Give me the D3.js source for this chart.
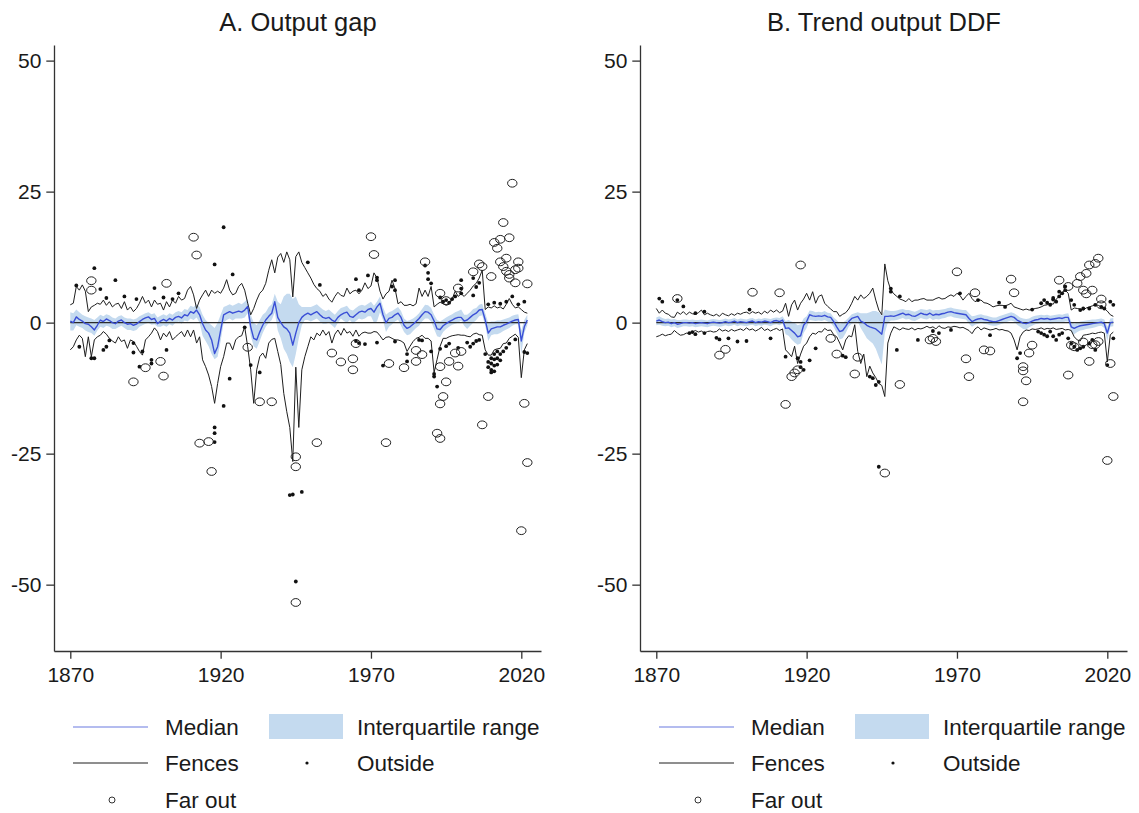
<!DOCTYPE html>
<html>
<head>
<meta charset="utf-8">
<script src="https://cdn.jsdelivr.net/npm/d3@7"></script>
<style>
  html, body { margin: 0; padding: 0; background: #fff; }
  svg { display: block; font-family: "Liberation Sans", Arial, Helvetica, sans-serif; }
</style>
</head>
<body>
<svg id="chart" width="1139" height="813"></svg>
<script>
// ---- Data -------------------------------------------------------------
const YEARS = d3.range(1870, 2023);
const Y_TICKS = [-50, -25, 0, 25, 50];
const X_TICKS = [1870, 1920, 1970, 2020];
const PANEL_TITLES = ["A. Output gap", "B. Trend output DDF"];
const LEGEND_LABELS = ["Median", "Interquartile range", "Fences", "Outside", "Far out"];

// Panel A: output gap
const gapMed = [
  0.3, 0.0, 1.1, 0.6, 0.3, -0.2, -0.3, -0.8, -1.4, -0.5,
  0.5, 0.2, 0.7, 0.4, 0.0, -0.2, 0.3, 0.5, 0.0, -0.3,
  -0.2, -0.5, -0.3, 0.2, 0.6, 0.9, 1.1, 0.6, 0.8, -0.2,
  0.3, 0.6, 0.3, 0.8, 0.5, 1.0, 1.2, 0.9, 1.5, 1.3,
  2.1, 1.8, 2.4, 1.5, -0.2, -1.4, -2.0, -3.3, -5.9, -4.6,
  -1.5, 1.5, 1.8, 2.1, 1.8, 2.0, 2.2, 2.0, 2.4, 3.1,
  -0.8, -3.0, -3.3, -1.8, -0.5, 0.5, 1.2, 1.8, 4.0, 1.0,
  0.0, -0.8, -1.2, -2.0, -4.3, -2.0, 0.0, 1.0, 1.5, 1.8,
  1.5, 1.8, 2.1, 1.5, 1.0, 0.8, 1.0, 0.5, 0.2, 1.0,
  1.5, 1.8, 2.0, 1.2, 1.0, 1.5, 2.0, 2.2, 2.0, 2.5,
  2.7, 2.0, 3.0, 3.7, 1.5, 0.0, 0.8, 1.0, 1.5, 1.8,
  1.0, -0.5, -1.1, -0.8, -0.3, 0.2, 0.8, 1.5, 2.1, 2.0,
  1.5, 0.3, -1.2, -1.3, -0.6, -0.2, 0.2, 0.5, 0.8, 1.0,
  1.0, 0.3, 0.5, 1.0, 1.5, 1.8, 2.4, 2.5, 0.5, -2.0,
  -1.2, -1.0, -0.8, -0.8, -0.5, -0.3, 0.0, 0.3, 0.5, 0.6,
  -3.5, -0.8, 0.5
];
const gapQ3 = [
  2.0, 1.8, 2.5, 2.0, 1.5, 1.2, 1.0, 0.8, 0.5, 1.0,
  1.5, 1.2, 1.6, 1.4, 1.0, 0.8, 1.2, 1.4, 1.0, 0.8,
  0.8, 0.6, 0.8, 1.2, 1.5, 1.8, 2.0, 1.6, 1.8, 1.0,
  1.3, 1.6, 1.3, 1.8, 1.5, 2.0, 2.2, 2.0, 2.6, 2.4,
  3.2, 3.0, 3.5, 3.0, 1.5, 0.5, 0.0, -0.5, -1.0, 0.0,
  1.5, 3.0, 3.2, 3.5, 3.2, 3.5, 3.8, 3.5, 4.0, 4.5,
  1.5, 0.0, -0.5, 0.5, 1.5, 2.0, 3.0, 3.5, 5.5, 4.0,
  3.5, 5.0, 5.5, 5.5, 4.5, 5.0, 3.5, 3.0, 3.0, 3.0,
  3.0, 3.2, 3.5, 3.0, 2.5, 2.2, 2.5, 2.0, 1.5, 2.2,
  2.8, 3.0, 3.2, 2.5, 2.3, 2.8, 3.2, 3.4, 3.2, 3.6,
  4.0, 3.2, 4.0, 5.0, 3.0, 1.5, 2.0, 2.2, 2.6, 3.0,
  2.2, 0.8, 0.3, 0.5, 0.8, 1.2, 1.8, 2.6, 3.4, 3.3,
  2.8, 1.5, 0.5, 0.2, 0.6, 1.0, 1.3, 1.6, 2.0, 2.2,
  2.5, 1.5, 1.5, 2.0, 2.6, 2.8, 3.4, 3.6, 1.8, 0.0,
  0.2, 0.2, 0.4, 0.4, 0.6, 0.8, 1.0, 1.3, 1.5, 1.6,
  -1.5, 0.5, 1.5
];
const gapQ1 = [
  -1.5, -1.5, -0.5, -0.8, -1.0, -1.5, -1.8, -2.0, -2.5, -1.5,
  -0.8, -1.0, -0.6, -0.8, -1.2, -1.2, -0.9, -0.6, -1.0, -1.4,
  -1.4, -1.6, -1.4, -0.8, -0.5, -0.2, 0.0, -0.4, -0.3, -0.8,
  -0.8, -0.5, -0.8, -0.3, -0.6, 0.0, 0.2, -0.2, 0.4, 0.2,
  0.8, 0.5, 1.0, 0.0, -2.5, -3.5, -4.5, -6.0, -7.0, -6.5,
  -3.5, 0.0, 0.5, 0.8, 0.4, 0.8, 0.8, 0.8, 1.0, 1.8,
  -2.5, -4.5, -5.0, -3.5, -2.0, -0.8, 0.0, 0.5, 2.0, -1.5,
  -3.0, -5.0, -6.0, -7.5, -8.5, -6.0, -3.0, -0.5, 0.5, 0.5,
  0.2, 0.5, 0.8, 0.2, -0.2, -0.2, 0.0, -0.5, -1.0, 0.0,
  0.8, 0.3, 0.0, 0.5, -0.2, 0.3, 0.8, 0.6, 0.8, 1.2,
  1.2, 0.0, 0.2, 2.0, 0.5, -1.8, -0.8, -0.3, 0.2, 0.6,
  -0.6, -1.8, -2.4, -2.2, -1.6, -1.0, -0.6, 0.2, 0.8, 0.8,
  0.2, -1.2, -2.6, -2.8, -1.8, -1.2, -0.8, -0.4, -0.2, 0.0,
  0.4, -0.6, -1.2, -0.6, 0.0, 0.5, 1.2, 1.4, -0.6, -3.5,
  -2.4, -2.2, -2.2, -2.0, -1.6, -1.3, -1.0, -0.6, -0.3, -0.3,
  -6.0, -2.0, -0.5
];
const gapHi = [
  3.4, 3.7, 6.9, 6.2, 7.2, 6.0, 2.1, 3.0, 3.3, 3.7,
  3.5, 4.3, 3.3, 4.0, 3.0, 3.5, 3.7, 2.7, 4.0, 2.4,
  3.0, 2.1, 2.7, 3.7, 5.0, 3.7, 4.3, 3.0, 4.3, 3.5,
  3.7, 2.4, 4.0, 3.0, 4.3, 3.7, 5.0, 4.3, 4.6, 6.2,
  6.9, 5.3, 2.7, 4.3, 5.3, 6.2, 5.0, 6.2, 5.6, 6.0,
  5.6, 6.6, 8.2, 6.2, 5.3, 5.6, 6.9, 7.5, 6.2, 3.7,
  1.5, 2.7, 4.3, 5.6, 6.2, 7.5, 10.0, 12.0, 9.5, 12.5,
  13.2, 11.5, 13.5, 12.0, 4.9, 12.6, 13.5, 11.5, 10.5, 9.5,
  8.5, 7.3, 6.5, 6.0, 5.0, 5.5, 4.5, 3.9, 5.0, 5.8,
  5.2, 5.0, 6.6, 5.5, 6.0, 6.2, 5.5, 6.2, 7.6, 6.5,
  7.0, 9.5, 8.5, 6.0, 4.5, 5.5, 6.0, 8.1, 6.5, 3.6,
  4.0, 3.3, 3.3, 3.5, 3.2, 3.6, 6.6, 5.0, 6.2, 5.0,
  6.9, 3.0, 3.5, 3.9, 3.6, 3.3, 3.5, 4.5, 6.0, 5.0,
  5.5, 5.0, 5.6, 6.2, 7.0, 7.5, 8.5, 10.0, 2.5, 3.0,
  2.8, 3.2, 2.8, 3.0, 2.6, 3.5, 4.6, 3.5, 2.8, 3.0,
  2.5, 2.0, 1.8
];
const gapLo = [
  -5.2, -4.6, -3.3, -2.4, -3.0, -6.5, -2.7, -6.5, -3.3, -2.7,
  -2.4, -1.7, -2.2, -3.0, -3.5, -3.9, -2.7, -3.6, -3.3, -4.9,
  -3.3, -3.6, -4.5, -5.5, -6.2, -3.3, -2.7, -2.0, -1.0, -1.7,
  -3.3, -2.0, -2.7, -1.7, -3.3, -2.7, -2.2, -1.7, -2.7, -1.4,
  -2.7, -1.4, -3.9, -2.7, -7.1, -8.4, -10.0, -12.2, -15.4, -11.6,
  -8.4, -6.5, -3.9, -3.9, -5.2, -3.3, -2.7, -2.5, -0.8, -4.6,
  -9.0, -15.4, -9.0, -6.5, -5.8, -6.8, -3.9, -3.2, -3.0, -5.5,
  -8.0, -13.5, -17.0, -20.0, -26.5, -8.5, -20.0, -9.0, -6.5, -4.6,
  -2.7, -3.3, -2.0, -2.5, -1.4, -2.4, -1.7, -3.9, -2.2, -1.4,
  -2.4, -1.1, -2.0, -1.7, -2.6, -1.4, -2.6, -2.0, -1.8, -2.0,
  -2.0, -1.7, -1.8, -2.5, -3.3, -2.8, -2.7, -3.0, -3.3, -3.3,
  -3.5, -3.9, -5.5, -4.5, -3.6, -3.0, -2.8, -2.4, -3.0, -3.0,
  -3.5, -9.5, -7.0, -4.5, -3.0, -3.0, -2.7, -2.5, -2.4, -2.3,
  -2.4, -2.4, -2.6, -2.7, -2.2, -2.0, -2.3, -2.4, -5.2, -6.2,
  -6.2, -5.2, -5.0, -4.9, -4.0, -3.9, -3.0, -2.6, -2.2, -2.8,
  -10.5, -5.2, -4.0
];
const gapOutside = [
  [1872, 7.1], [1878, 10.4], [1880, 6.4], [1882, 4.7], [1885, 8.1], [1888, 5.0],
  [1892, 4.5], [1898, 6.6], [1901, 4.8], [1904, 4.5], [1906, 5.6], [1918, 11.1],
  [1921, 18.2], [1924, 9.2], [1949, 11.5], [1953, 7.2], [1965, 8.3], [1966, 6.2],
  [1969, 9.0], [1972, 8.6], [1972, 8.1], [1977, 6.9], [1978, 8.1], [1978, 6.2],
  [1988, 10.9], [1989, 9.5], [1989, 8.3], [1990, 7.5], [1993, 4.8], [1994, 4.0],
  [1995, 4.3], [1996, 3.8], [1997, 4.5], [1998, 5.0], [2000, 8.1], [2000, 6.5],
  [2000, 5.6], [2004, 5.2], [2005, 6.8], [2006, 7.6], [2004, 8.5], [2009, 3.5],
  [2011, 3.8], [2013, 3.6], [2015, 4.0], [2017, 5.0], [2019, 3.5], [2021, 4.0],
  [1873, -4.6], [1877, -6.8], [1878, -6.8], [1881, -5.2], [1882, -4.6], [1883, -3.4],
  [1891, -3.9], [1891, -5.7], [1893, -8.4], [1894, -5.5], [1897, -7.1], [1897, -7.8],
  [1902, -5.2], [1918, -20.0], [1918, -21.1], [1918, -22.8], [1921, -15.9], [1923, -10.7],
  [1928, -0.9], [1930, -8.1], [1933, -9.5], [1943, -32.9], [1944, -32.8], [1947, -32.3],
  [1945, -49.4], [1965, -3.5], [1966, -3.9], [1968, -4.1], [1972, -3.8], [1974, -8.2],
  [1978, -3.6], [1982, -6.0], [1982, -7.4], [1986, -3.3], [1987, -3.4], [1990, -5.5],
  [1991, -9.8], [1991, -10.3], [1992, -12.2], [1993, -5.0], [1995, -4.5], [1996, -4.0],
  [1999, -4.8], [2002, -3.8], [2003, -4.6], [2004, -4.0], [2005, -3.5], [2006, -3.3],
  [2008, -6.0], [2009, -7.5], [2009, -8.5], [2010, -6.8], [2010, -7.8], [2010, -9.0],
  [2010, -9.5], [2011, -6.0], [2011, -7.0], [2011, -8.2], [2011, -9.3], [2012, -5.5],
  [2012, -6.8], [2012, -8.0], [2013, -6.0], [2013, -7.2], [2014, -5.5], [2015, -4.8],
  [2016, -4.0], [2018, -3.2], [2021, -5.6], [2022, -5.8]
];
const gapFarOut = [
  [1877, 8.0], [1877, 6.2], [1902, 7.5], [1911, 16.3], [1912, 12.9], [1970, 16.4],
  [1971, 13.0], [1988, 11.6], [1993, 5.6], [1995, 4.2], [1999, 6.6], [2004, 9.7],
  [2006, 11.2], [2007, 10.7], [2010, 8.8], [2011, 15.3], [2012, 14.2], [2013, 15.9],
  [2013, 11.6], [2014, 10.7], [2014, 19.1], [2015, 12.3], [2016, 16.2], [2016, 9.2],
  [2016, 8.5], [2015, 9.8], [2017, 26.6], [2018, 10.1], [2018, 7.6], [2019, 11.6],
  [2019, 10.4], [2022, 7.4],
  [1891, -11.3], [1895, -8.6], [1900, -7.4], [1901, -10.2], [1913, -23.0], [1916, -22.7],
  [1917, -28.4], [1929, -4.7], [1933, -15.1], [1937, -15.1], [1945, -25.6], [1945, -27.5],
  [1945, -53.4], [1952, -22.9], [1957, -5.8], [1960, -7.5], [1964, -6.9], [1964, -9.0],
  [1965, -4.0], [1975, -22.9], [1976, -7.8], [1981, -8.6], [1985, -5.3], [1987, -6.1],
  [1985, -7.4], [1992, -21.1], [1993, -22.1], [1993, -8.4], [1993, -15.5], [1994, -14.1],
  [1995, -11.3], [1996, -7.4], [1999, -8.3], [2000, -5.5], [1998, -5.8], [2007, -19.5],
  [2009, -14.1], [2021, -15.4], [2022, -26.7], [2020, -39.7]
];

// Panel B: trend output DDF
const ddfMed = [
  0.3, 0.5, 0.2, 0.0, 0.1, -0.2, 0.0, -0.3, -0.2, 0.0,
  0.0, -0.1, 0.0, -0.2, -0.1, 0.0, -0.1, -0.2, 0.0, 0.1,
  0.0, -0.1, 0.0, 0.2, 0.0, 0.1, 0.3, 0.0, 0.2, 0.1,
  0.0, 0.2, 0.3, 0.0, 0.2, 0.1, 0.3, 0.2, 0.0, 0.3,
  0.4, 0.2, 0.5, -1.1, -1.0, -1.5, -2.0, -2.7, -2.5, -0.5,
  0.2, 1.5, 1.3, 1.2, 1.3, 1.2, 1.4, 1.1, 1.0, 0.2,
  -0.8, -1.7, -1.5, -0.7, 0.2, 0.8, 1.0, 1.2, 0.3, 0.0,
  -0.5, -0.8, -1.0, -1.2, -1.7, -2.2, 1.2, 1.2, 1.3, 1.2,
  1.4, 1.6, 1.8, 1.5, 1.6, 1.3, 1.2, 1.5, 1.8, 1.6,
  1.5, 1.8, 1.4, 1.6, 1.5, 1.7, 1.8, 2.0, 2.1, 1.9,
  1.8, 1.7, 1.6, 1.5, 0.8, 0.2, 0.5, 0.7, 0.8, 0.6,
  0.5, 0.3, 0.2, 0.2, 0.4, 0.6, 0.8, 1.0, 1.2, 1.0,
  0.5, 0.2, -0.1, -0.2, 0.0, 0.3, 0.5, 0.6, 0.8, 0.7,
  0.8, 0.6, 0.7, 0.8, 0.9, 0.8, 1.0, 1.0, -0.8, -1.1,
  -0.8, -0.6, -0.5, -0.4, -0.3, -0.2, -0.1, 0.0, 0.1, -0.2,
  -2.0, 0.0, 0.1
];
const ddfQ3 = [
  1.0, 1.2, 0.9, 0.7, 0.8, 0.6, 0.7, 0.5, 0.5, 0.6,
  0.6, 0.5, 0.6, 0.5, 0.5, 0.6, 0.5, 0.4, 0.6, 0.7,
  0.6, 0.5, 0.6, 0.8, 0.6, 0.7, 0.9, 0.6, 0.8, 0.7,
  0.6, 0.8, 0.9, 0.6, 0.8, 0.7, 0.9, 0.8, 0.7, 0.9,
  1.0, 0.9, 1.2, 0.3, 0.5, 0.2, 0.0, -0.5, -0.3, 0.8,
  1.2, 2.3, 2.2, 2.0, 2.1, 2.0, 2.2, 1.9, 1.8, 1.0,
  0.5, -0.2, 0.0, 0.4, 1.0, 1.6, 1.8, 2.0, 1.8, 1.8,
  1.8, 2.0, 2.2, 2.2, 2.0, 1.3, 2.5, 2.3, 2.2, 2.2,
  2.3, 2.5, 2.6, 2.4, 2.4, 2.2, 2.1, 2.3, 2.6, 2.5,
  2.4, 2.6, 2.3, 2.4, 2.4, 2.5, 2.6, 2.8, 2.9, 2.7,
  2.6, 2.5, 2.4, 2.4, 1.8, 1.2, 1.3, 1.5, 1.6, 1.4,
  1.3, 1.1, 1.0, 1.0, 1.2, 1.4, 1.6, 1.8, 2.0, 1.8,
  1.4, 1.0, 0.8, 0.7, 0.8, 1.1, 1.3, 1.4, 1.5, 1.4,
  1.5, 1.3, 1.4, 1.5, 1.6, 1.5, 1.7, 1.8, 0.2, -0.2,
  0.0, 0.2, 0.3, 0.4, 0.5, 0.6, 0.6, 0.7, 0.8, 0.6,
  -0.8, 0.8, 0.9
];
const ddfQ1 = [
  -0.5, -0.4, -0.6, -0.7, -0.6, -0.9, -0.7, -1.0, -0.9, -0.7,
  -0.7, -0.8, -0.7, -0.9, -0.8, -0.7, -0.8, -0.9, -0.7, -0.6,
  -0.7, -0.8, -0.7, -0.5, -0.7, -0.6, -0.4, -0.7, -0.5, -0.6,
  -0.7, -0.5, -0.4, -0.7, -0.5, -0.6, -0.4, -0.5, -0.7, -0.4,
  -0.3, -0.5, -0.2, -2.2, -2.5, -3.2, -3.8, -4.2, -4.0, -2.0,
  -1.0, 0.5, 0.4, 0.3, 0.4, 0.3, 0.5, 0.2, 0.0, -0.8,
  -2.0, -3.2, -3.0, -2.0, -0.8, -0.2, 0.0, 0.2, -1.0, -2.0,
  -3.0, -3.5, -4.0, -5.0, -6.5, -8.0, -2.0, 0.0, 0.4, 0.4,
  0.5, 0.7, 0.9, 0.6, 0.7, 0.4, 0.3, 0.6, 0.9, 0.7,
  0.6, 0.9, 0.5, 0.7, 0.6, 0.8, 0.9, 1.1, 1.2, 1.0,
  0.9, 0.8, 0.7, 0.6, -0.2, -0.8, -0.4, -0.2, 0.0, -0.2,
  -0.3, -0.5, -0.6, -0.6, -0.4, -0.2, 0.0, 0.2, 0.4, 0.2,
  -0.4, -0.8, -1.2, -1.3, -0.9, -0.6, -0.3, -0.2, 0.0, -0.1,
  0.0, -0.2, -0.1, 0.0, 0.1, 0.0, 0.2, 0.2, -1.8, -2.2,
  -1.8, -1.5, -1.4, -1.2, -1.1, -1.0, -0.9, -0.7, -0.6, -1.0,
  -3.5, -0.8, -0.7
];
const ddfHi = [
  2.7, 1.8, 2.4, 1.8, 1.6, 1.1, 1.0, 2.0, 1.6, 2.1,
  1.5, 2.0, 1.7, 1.6, 1.9, 2.4, 1.5, 1.8, 1.5, 1.3,
  1.6, 1.2, 1.8, 1.5, 1.3, 1.7, 1.4, 1.8, 1.6, 1.9,
  2.0, 1.7, 2.1, 1.8, 2.0, 1.6, 2.2, 1.8, 2.4, 2.0,
  2.4, 1.9, 2.2, 3.7, 1.2, 3.4, 4.3, 2.4, 3.7, 4.5,
  5.6, 4.3, 5.9, 3.7, 5.0, 5.3, 3.7, 3.1, 2.6, 2.1,
  2.1, 1.2, 1.6, 1.9, 2.6, 3.7, 5.0, 4.3, 5.3, 4.6,
  5.0, 5.6, 6.6, 4.3, 2.4, 1.5, 11.2, 8.0, 6.2, 5.5,
  5.0, 4.5, 4.3, 4.0, 4.6, 4.0, 4.3, 4.3, 4.5, 4.6,
  4.3, 4.3, 4.3, 4.6, 4.8, 4.5, 4.6, 5.0, 5.3, 5.0,
  5.6, 5.2, 4.3, 5.0, 5.6, 4.6, 4.0, 4.3, 4.3, 3.8,
  3.7, 3.4, 3.0, 3.2, 3.3, 3.3, 3.2, 3.4, 3.7, 3.0,
  2.8, 2.6, 2.4, 2.6, 2.4, 2.5, 2.7, 2.8, 3.0, 3.3,
  3.4, 3.7, 3.5, 4.5, 5.0, 5.8, 6.2, 5.6, 2.4, 2.8,
  2.7, 2.6, 2.4, 2.8, 3.0, 3.2, 3.4, 3.3, 3.0, 2.7,
  2.2, 1.5, 1.2
];
const ddfLo = [
  -2.7, -2.5, -2.2, -2.5, -2.3, -2.2, -1.5, -2.0, -2.4, -2.3,
  -2.0, -2.1, -1.8, -1.5, -1.8, -1.6, -2.0, -1.7, -1.6, -1.8,
  -1.7, -1.2, -1.6, -1.4, -1.7, -1.3, -1.6, -1.4, -1.2, -1.5,
  -1.0, -1.4, -1.2, -1.6, -1.3, -0.9, -1.5, -1.2, -1.6, -1.3,
  -1.1, -1.5, -1.2, -5.2, -5.8, -6.5, -4.5, -7.8, -6.0, -4.5,
  -3.9, -2.7, -2.0, -2.2, -1.7, -1.8, -1.1, -1.5, -1.4, -2.3,
  -2.7, -3.9, -5.2, -3.3, -2.5, -2.7, -0.4, -5.5, -7.8, -6.0,
  -10.3, -8.3, -9.6, -10.5, -11.6, -12.0, -14.1, -3.9, -2.0, -0.8,
  -1.1, -1.4, -1.0, -1.2, -1.3, -1.0, -1.4, -1.1, -1.2, -1.0,
  -0.7, -1.0, -0.8, -1.2, -0.6, -1.0, -1.1, -0.8, -0.9, -0.7,
  -0.8, -1.0, -0.9, -1.2, -1.5, -2.1, -1.2, -0.8, -1.4, -1.0,
  -1.2, -1.4, -1.3, -1.1, -1.4, -1.3, -1.5, -1.6, -2.0, -3.3,
  -5.2, -2.7, -1.8, -1.4, -1.5, -1.2, -1.3, -1.2, -1.0, -1.3,
  -1.1, -1.2, -1.0, -1.3, -1.2, -1.1, -1.4, -1.3, -1.5, -2.7,
  -3.3, -3.5, -2.4, -2.3, -2.2, -2.0, -2.1, -1.9, -1.8, -2.0,
  -7.5, -2.3, -1.8
];
const ddfOutside = [
  [1871, 4.6], [1872, 4.0], [1877, 4.3], [1879, 3.1], [1883, 1.8], [1886, 2.1],
  [1901, 2.5], [1948, 6.5], [1948, 5.9], [1951, 5.0], [1971, 5.6], [1977, 4.3],
  [1984, 3.8], [1986, 3.0], [1995, 2.5], [1998, 3.7], [1999, 4.3], [2000, 3.8],
  [2001, 3.4], [2002, 4.4], [2002, 4.7], [2003, 4.0], [2004, 5.0], [2004, 5.9],
  [2005, 5.6], [2006, 6.2], [2006, 6.9], [2008, 4.3], [2009, 3.4], [2011, 2.4],
  [2012, 2.7], [2014, 2.7], [2016, 3.4], [2018, 3.0], [2019, 2.7], [2021, 4.0],
  [2022, 3.4],
  [1881, -2.0], [1882, -1.8], [1883, -2.2], [1886, -2.0], [1890, -2.9], [1891, -3.2],
  [1894, -3.0], [1897, -3.6], [1900, -3.5], [1908, -3.0], [1913, -6.5], [1917, -6.8],
  [1918, -7.5], [1918, -8.5], [1919, -9.0], [1921, -7.2], [1923, -4.9], [1932, -6.3],
  [1933, -6.6], [1941, -10.3], [1942, -10.6], [1943, -11.9], [1944, -11.3], [1944, -27.5],
  [1950, -5.2], [1957, -3.3], [1962, -1.6], [1964, -2.0], [1968, -1.4], [1981, -2.4],
  [1990, -6.8], [1991, -5.8], [1997, -1.7], [1998, -2.0], [1999, -2.3], [2000, -2.6],
  [2001, -1.7], [2002, -2.6], [2003, -3.3], [2004, -2.3], [2005, -2.0], [2007, -3.0],
  [2008, -4.0], [2009, -4.6], [2010, -5.2], [2011, -4.9], [2012, -4.6], [2014, -4.0],
  [2015, -3.3], [2016, -5.2], [2020, -8.1], [2022, -3.0]
];
const ddfFarOut = [
  [1877, 4.6], [1902, 5.8], [1911, 5.7], [1918, 11.0], [1970, 9.7], [1976, 5.7],
  [1988, 8.3], [1989, 5.7], [2004, 8.1], [2007, 6.9], [2010, 7.5], [2011, 8.8],
  [2012, 6.2], [2013, 9.4], [2013, 5.5], [2014, 11.0], [2015, 6.2], [2016, 11.3],
  [2017, 12.3], [2018, 3.4], [2018, 4.5],
  [1891, -6.2], [1893, -5.1], [1913, -15.6], [1915, -10.3], [1916, -9.6], [1917, -9.0],
  [1928, -3.0], [1930, -6.0], [1936, -9.8], [1937, -6.6], [1946, -28.7], [1951, -11.8],
  [1961, -3.3], [1962, -3.0], [1963, -3.6], [1973, -6.9], [1974, -10.3], [1979, -5.2],
  [1981, -5.4], [1992, -8.4], [1992, -9.2], [1993, -11.1], [1992, -15.1], [1994, -5.8],
  [1995, -4.3], [2007, -10.0], [2008, -4.3], [2009, -4.6], [2012, -3.7], [2014, -7.4],
  [2015, -4.2], [2016, -4.2], [2017, -3.6], [2020, -26.3], [2021, -7.8], [2022, -14.1]
];

// ---- Layout & style ---------------------------------------------------
const PANEL_SHIFT = 586;
const PLOT = { left: 54, right: 541, top: 45, bottom: 651 };
const X_DOMAIN = [1864.58, 2026.55];
const Y_DOMAIN = [-62.66, 52.98];
const COLORS = {
  median: "#3a4fd6",
  iqr: "#c4daef",
  fence: "#1e1e1e",
  axis: "#333333",
  zero: "#2b2b2b",
  text: "#1a1a1a"
};

const panels = [
  { title: PANEL_TITLES[0], med: gapMed, q1: gapQ1, q3: gapQ3, lo: gapLo, hi: gapHi, outside: gapOutside, far: gapFarOut },
  { title: PANEL_TITLES[1], med: ddfMed, q1: ddfQ1, q3: ddfQ3, lo: ddfLo, hi: ddfHi, outside: ddfOutside, far: ddfFarOut }
];

const svg = d3.select("#chart");
// plain hyphen-minus for negative tick labels
const plainNumber = d => String(d);

panels.forEach((p, i) => {
  const dx = i * PANEL_SHIFT;
  const g = svg.append("g").attr("transform", `translate(${dx},0)`);

  const x = d3.scaleLinear().domain(X_DOMAIN).range([PLOT.left, PLOT.right]);
  const y = d3.scaleLinear().domain(Y_DOMAIN).range([PLOT.bottom, PLOT.top]);

  const rows = YEARS.map((yr, k) => ({
    year: yr, med: p.med[k], q1: p.q1[k], q3: p.q3[k], lo: p.lo[k], hi: p.hi[k]
  }));

  // interquartile band
  g.append("path")
    .datum(rows)
    .attr("fill", COLORS.iqr)
    .attr("d", d3.area().x(d => x(d.year)).y0(d => y(d.q1)).y1(d => y(d.q3)));

  // zero reference
  g.append("path")
    .datum(rows)
    .attr("fill", "none")
    .attr("stroke", COLORS.zero)
    .attr("stroke-width", 1.3)
    .attr("d", d3.line().x(d => x(d.year)).y(() => y(0)));

  // fences
  ["lo", "hi"].forEach(key => {
    g.append("path")
      .datum(rows)
      .attr("fill", "none")
      .attr("stroke", COLORS.fence)
      .attr("stroke-width", 1)
      .attr("stroke-linejoin", "round")
      .attr("d", d3.line().x(d => x(d.year)).y(d => y(d[key])));
  });

  // median
  g.append("path")
    .datum(rows)
    .attr("fill", "none")
    .attr("stroke", COLORS.median)
    .attr("stroke-width", 1.4)
    .attr("stroke-linejoin", "round")
    .attr("d", d3.line().x(d => x(d.year)).y(d => y(d.med)));

  // outside values
  g.append("g").selectAll("circle")
    .data(p.outside)
    .join("circle")
    .attr("cx", d => x(d[0]))
    .attr("cy", d => y(d[1]))
    .attr("r", 1.9)
    .attr("fill", "#111");

  // far-out values
  g.append("g").selectAll("ellipse")
    .data(p.far)
    .join("ellipse")
    .attr("cx", d => x(d[0]))
    .attr("cy", d => y(d[1]))
    .attr("rx", 4.7)
    .attr("ry", 3.9)
    .attr("fill", "none")
    .attr("stroke", "#222")
    .attr("stroke-width", 1);

  // axes
  const yAxis = g.append("g")
    .attr("transform", `translate(${PLOT.left},0)`)
    .call(d3.axisLeft(y).tickValues(Y_TICKS).tickFormat(plainNumber).tickSize(7.7).tickSizeOuter(0).tickPadding(5));
  const xAxis = g.append("g")
    .attr("transform", `translate(0,${PLOT.bottom})`)
    .call(d3.axisBottom(x).tickValues(X_TICKS).tickFormat(plainNumber).tickSize(7.7).tickSizeOuter(0).tickPadding(8));
  [yAxis, xAxis].forEach(ax => {
    ax.select(".domain").attr("stroke", COLORS.axis).attr("stroke-width", 1.3);
    ax.selectAll(".tick line").attr("stroke", COLORS.axis).attr("stroke-width", 1.3);
    ax.selectAll(".tick text")
      .attr("fill", COLORS.text)
      .style("font-size", "21px")
      .style("font-family", "'Liberation Sans', Arial, sans-serif");
  });

  // title
  g.append("text")
    .attr("x", 298)
    .attr("y", 31)
    .attr("text-anchor", "middle")
    .attr("fill", COLORS.text)
    .style("font-size", "25.5px")
    .text(p.title);

  // legend
  const lg = g.append("g").style("font-size", "22.5px").attr("fill", COLORS.text);
  lg.append("line").attr("x1", 73).attr("x2", 148).attr("y1", 727).attr("y2", 727)
    .attr("stroke", COLORS.median).attr("stroke-width", 1.2).attr("opacity", 0.75);
  lg.append("text").attr("x", 165).attr("y", 735).text(LEGEND_LABELS[0]);
  lg.append("rect").attr("x", 269).attr("y", 714).attr("width", 74).attr("height", 25).attr("fill", COLORS.iqr);
  lg.append("text").attr("x", 357).attr("y", 735).text(LEGEND_LABELS[1]);
  lg.append("line").attr("x1", 73).attr("x2", 148).attr("y1", 763).attr("y2", 763)
    .attr("stroke", COLORS.fence).attr("stroke-width", 1);
  lg.append("text").attr("x", 165).attr("y", 771).text(LEGEND_LABELS[2]);
  lg.append("circle").attr("cx", 307).attr("cy", 763).attr("r", 1.6).attr("fill", "#111");
  lg.append("text").attr("x", 357).attr("y", 771).text(LEGEND_LABELS[3]);
  lg.append("circle").attr("cx", 112).attr("cy", 800).attr("r", 3).attr("fill", "none").attr("stroke", "#333").attr("stroke-width", 1);
  lg.append("text").attr("x", 165).attr("y", 808).text(LEGEND_LABELS[4]);
});
</script>
</body>
</html>
